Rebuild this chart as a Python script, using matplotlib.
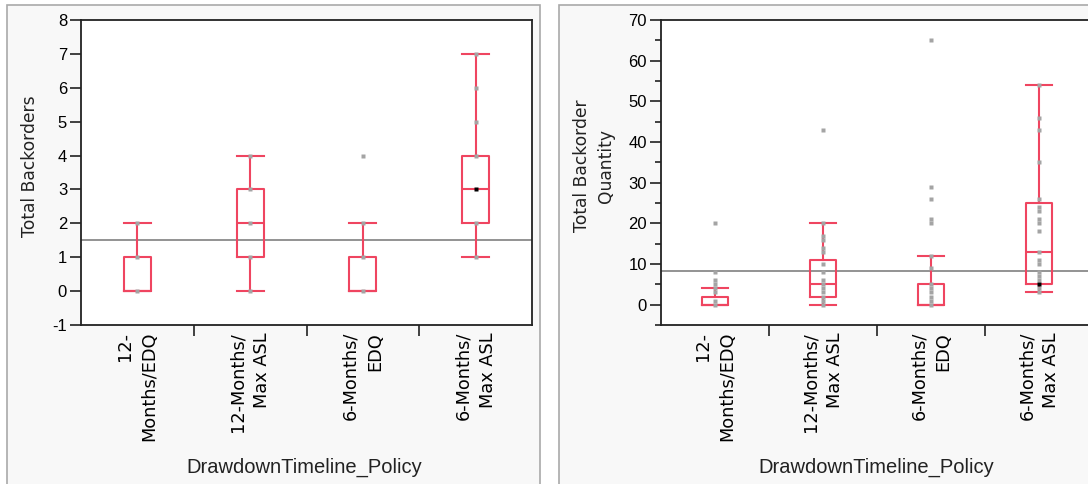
import matplotlib
matplotlib.use("Agg")
import matplotlib.pyplot as plt
from matplotlib.patches import Rectangle
from matplotlib.ticker import FixedLocator, MultipleLocator

plt.rcParams["axes.unicode_minus"] = False

# ---------------- data ----------------
categories = ["12-\nMonths/EDQ", "12-Months/\nMax ASL", "6-Months/\nEDQ", "6-Months/\nMax ASL"]

# Total Backorders
bo_q1 = [0, 1, 0, 2]
bo_med = [0, 2, 0, 3]
bo_q3 = [1, 3, 1, 4]
bo_whislo = [0, 0, 0, 1]
bo_whishi = [2, 4, 2, 7]
bo_points = [[0, 1, 2], [0, 1, 2, 3, 4], [0, 1, 2, 4], [1, 2, 4, 5, 6, 7]]
bo_dark = [[], [], [], [3]]
bo_ref = 1.5

# Total Backorder Quantity
q_q1 = [0, 2, 0, 5]
q_med = [0, 5, 0, 13]
q_q3 = [2, 11, 5, 25]
q_whislo = [0, 0, 0, 3]
q_whishi = [4, 20, 12, 54]
q_points = [
    [0, 1, 3, 4, 5, 6, 8, 20],
    [0, 1, 2, 3, 4, 5, 6, 8, 10, 13, 14, 16, 17, 20, 43],
    [0, 1, 2, 3, 4, 5, 9, 12, 20, 21, 26, 29, 65],
    [3, 4, 6, 7, 8, 10, 11, 13, 18, 20, 21, 23, 24, 26, 35, 43, 46, 54],
]
q_dark = [[], [], [], [5]]
q_ref = 8.3

# ---------------- style ----------------
W, H = 1088, 484
RED = "#ef4560"
PT_GRAY = "#a4a4a4"
REF_GRAY = "#8a8a8a"
PANEL_BG = "#f8f8f8"
PANEL_EDGE = "#a9a9a9"
TICK_FONT = ["Liberation Sans", "DejaVu Sans"]
ROT_FONT = ["DejaVu Sans"]

fig = plt.figure(figsize=(W / 100, H / 100), dpi=100)
fig.patch.set_facecolor("white")


def px(x0, y0, x1, y1):
    """pixel box (top-left origin) -> figure fraction rect"""
    return [x0 / W, 1 - y1 / H, (x1 - x0) / W, (y1 - y0) / H]


# panel backgrounds
for (x0, x1) in [(7, 540), (559, 1100)]:
    r = Rectangle((x0 / W, -0.01), (x1 - x0) / W, (H - 5) / H + 0.01,
                  transform=fig.transFigure, facecolor=PANEL_BG,
                  edgecolor=PANEL_EDGE, lw=1.2, zorder=0)
    fig.add_artist(r)


def draw_panel(rect, q1, med, q3, lo, hi, pts, dark, ref, ylim, major, minor):
    ax = fig.add_axes(rect)
    ax.set_facecolor("white")
    stats = []
    for i in range(len(categories)):
        stats.append(dict(med=med[i], q1=q1[i], q3=q3[i],
                          whislo=lo[i], whishi=hi[i], fliers=[]))
    pos = list(range(len(categories)))
    ax.bxp(stats, positions=pos, widths=0.24, capwidths=0.24,
           showfliers=False,
           boxprops=dict(color=RED, lw=1.5),
           whiskerprops=dict(color=RED, lw=1.5),
           capprops=dict(color=RED, lw=1.5),
           medianprops=dict(color=RED, lw=1.5),
           manage_ticks=False, zorder=3)
    for i, vals in enumerate(pts):
        ax.plot([pos[i]] * len(vals), vals, ls="none", marker="s",
                ms=2.7, mec="none", mfc=PT_GRAY, zorder=4)
    for i, vals in enumerate(dark):
        if vals:
            ax.plot([pos[i]] * len(vals), vals, ls="none", marker="s",
                    ms=2.8, mec="none", mfc="black", zorder=5)
    ax.axhline(ref, color=REF_GRAY, lw=1.3, zorder=2)
    ax.set_xlim(-0.5, len(categories) - 0.5)
    ax.set_ylim(*ylim)
    ax.yaxis.set_major_locator(MultipleLocator(major))
    if minor:
        ax.yaxis.set_minor_locator(MultipleLocator(minor))
    ax.set_xticks(pos)
    ax.set_xticklabels(categories, rotation=90, multialignment="right",
                       linespacing=1.45, family=ROT_FONT, fontsize=12.8)
    ax.xaxis.set_minor_locator(FixedLocator([p + 0.5 for p in pos[:-1]]))
    ax.tick_params(axis="x", which="major", length=0, pad=5)
    ax.tick_params(axis="x", which="minor", length=8, width=1.2, color="#222222")
    ax.tick_params(axis="y", which="major", length=8, width=1.2, color="#222222",
                   labelsize=12, pad=2)
    ax.tick_params(axis="y", which="minor", length=4, width=1.2, color="#222222")
    for lab in ax.get_yticklabels():
        lab.set_family(TICK_FONT)
    for s in ax.spines.values():
        s.set_color("#222222")
        s.set_linewidth(1.3)
    return ax


ax1 = draw_panel(px(81, 20, 532, 325), bo_q1, bo_med, bo_q3, bo_whislo, bo_whishi,
                 bo_points, bo_dark, bo_ref, (-1, 8), 1, None)
ax2 = draw_panel(px(661, 20, 1093, 325), q_q1, q_med, q_q3, q_whislo, q_whishi,
                 q_points, q_dark, q_ref, (-5, 70), 10, 5)

# axis titles
fig.text(30 / W, 1 - 166 / H, "Total Backorders", rotation=90, ha="center",
         va="center", family=ROT_FONT, fontsize=12.3, color="#222222")
fig.text(594 / W, 1 - 166 / H, "Total Backorder\nQuantity", rotation=90,
         ha="center", va="center", multialignment="center", linespacing=1.45,
         family=ROT_FONT, fontsize=12.3, color="#222222")
fig.text(304 / W, 1 - 467 / H, "DrawdownTimeline_Policy", ha="center",
         va="center", family=TICK_FONT, fontsize=14.5, color="#222222")
fig.text(876 / W, 1 - 467 / H, "DrawdownTimeline_Policy", ha="center",
         va="center", family=TICK_FONT, fontsize=14.5, color="#222222")

fig.savefig("out.png", dpi=100)
